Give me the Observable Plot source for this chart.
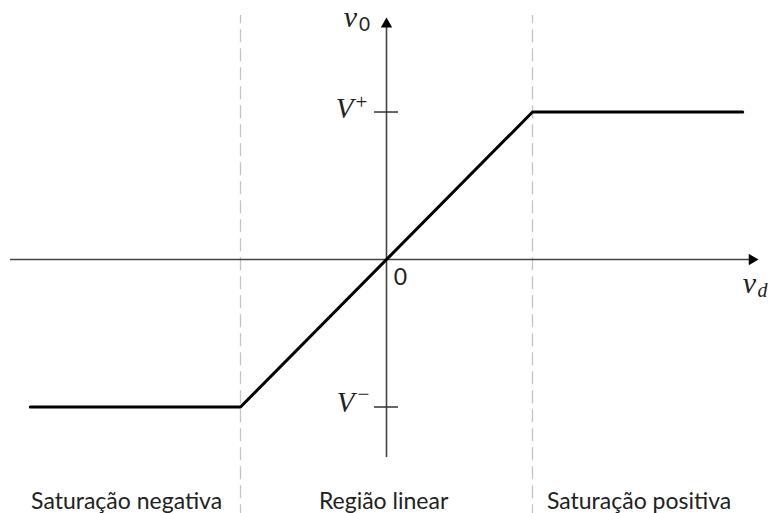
<!DOCTYPE html>
<html>
<head>
<meta charset="utf-8">
<script src="https://cdn.jsdelivr.net/npm/d3@7"></script>
<script src="https://cdn.jsdelivr.net/npm/@observablehq/plot@0.6"></script>
<style>
  html, body { margin: 0; padding: 0; background: #fff; }
</style>
</head>
<body>
<div id="chart"></div>
<script>
// ---- data ----
const curveX = [-2.44, -1, 1, 2.44];      // v_d
const curveY = [-1, -1, 1, 1];            // v_0
const vPlus = 1, vMinus = -1;
const regionBounds = [-1, 1];
const regionLabels = ["Saturação negativa", "Região linear", "Saturação positiva"];
const regionCenters = [-1.78, -0.02, 1.73];
const regionLabelY = -1.64;
const xAxisExtent = [-2.575, 2.548];
const yAxisExtent = [-1.342, 1.64];
const dashExtent = [-1.75, 1.654];
const tickHalf = 0.082;

const curve = curveX.map((x, i) => ({x, y: curveY[i]}));

const serif = "'Liberation Serif', 'DejaVu Serif', serif";
const sans = "Lato, 'Open Sans', sans-serif";

const chart = Plot.plot({
  width: 771,
  height: 513,
  marginTop: 0, marginRight: 0, marginBottom: 0, marginLeft: 0,
  x: {domain: [-386 / 146, (771 - 386) / 146], axis: null},
  y: {domain: [-1.722, 1.756], axis: null},
  style: {background: "#fff"},
  marks: [
    // region separators
    Plot.ruleX(regionBounds, {y1: dashExtent[0], y2: dashExtent[1], stroke: "#c4c4c4", strokeWidth: 1.3, strokeDasharray: "13,6"}),
    // axes
    Plot.ruleY([0], {x1: xAxisExtent[0], x2: xAxisExtent[1] - 0.05, stroke: "#444", strokeWidth: 1.6}),
    Plot.ruleX([0], {y1: yAxisExtent[0], y2: yAxisExtent[1] - 0.05, stroke: "#444", strokeWidth: 1.6}),
    // arrow heads
    Plot.dot([{x: xAxisExtent[1], y: 0}], {x: "x", y: "y", symbol: "triangle", r: 4.2, fill: "#000", stroke: "none", rotate: 90, dx: -6.5}),
    Plot.dot([{x: 0, y: yAxisExtent[1]}], {x: "x", y: "y", symbol: "triangle", r: 4.2, fill: "#000", stroke: "none", dy: 6.5}),
    // ticks at V+ and V-
    Plot.ruleY([vPlus, vMinus], {x1: -tickHalf, x2: tickHalf, stroke: "#333", strokeWidth: 1.5}),
    // transfer curve
    Plot.line(curve, {x: "x", y: "y", stroke: "#000", strokeWidth: 3, strokeLinejoin: "miter"}),
    // region labels
    Plot.text(regionLabels, {x: (d, i) => regionCenters[i], y: () => regionLabelY, text: d => d, fontFamily: sans, fontSize: 23, fill: "#222"}),
    // origin label
    Plot.text(["0"], {x: () => 0, y: () => 0, text: d => d, dx: 14, dy: 18, fontFamily: sans, fontSize: 23, fill: "#222"}),
    // v0 label
    Plot.text(["v"], {x: () => 0, y: () => yAxisExtent[1], text: d => d, dx: -36, dy: 0, fontFamily: serif, fontStyle: "italic", fontSize: 30, fill: "#222"}),
    Plot.text(["0"], {x: () => 0, y: () => yAxisExtent[1], text: d => d, dx: -22, dy: 7, fontFamily: sans, fontSize: 19, fill: "#222"}),
    // V+ label
    Plot.text(["V"], {x: () => 0, y: () => vPlus, text: d => d, dx: -42, dy: -3, fontFamily: serif, fontStyle: "italic", fontSize: 29, fill: "#222"}),
    Plot.text(["+"], {x: () => 0, y: () => vPlus, text: d => d, dx: -25, dy: -10, fontFamily: serif, fontSize: 21, fill: "#222"}),
    // V- label
    Plot.text(["V"], {x: () => 0, y: () => vMinus, text: d => d, dx: -41, dy: -4, fontFamily: serif, fontStyle: "italic", fontSize: 29, fill: "#222"}),
    Plot.text(["\u2212"], {x: () => 0, y: () => vMinus, text: d => d, dx: -23, dy: -13, fontFamily: serif, fontSize: 21, fill: "#222"}),
    // vd label
    Plot.text(["v"], {x: () => xAxisExtent[1], y: () => 0, text: d => d, dx: -9, dy: 24, fontFamily: serif, fontStyle: "italic", fontSize: 30, fill: "#222"}),
    Plot.text(["d"], {x: () => xAxisExtent[1], y: () => 0, text: d => d, dx: 4, dy: 31, fontFamily: serif, fontStyle: "italic", fontSize: 20, fill: "#222"})
  ]
});
document.getElementById("chart").appendChild(chart);
</script>
</body>
</html>
